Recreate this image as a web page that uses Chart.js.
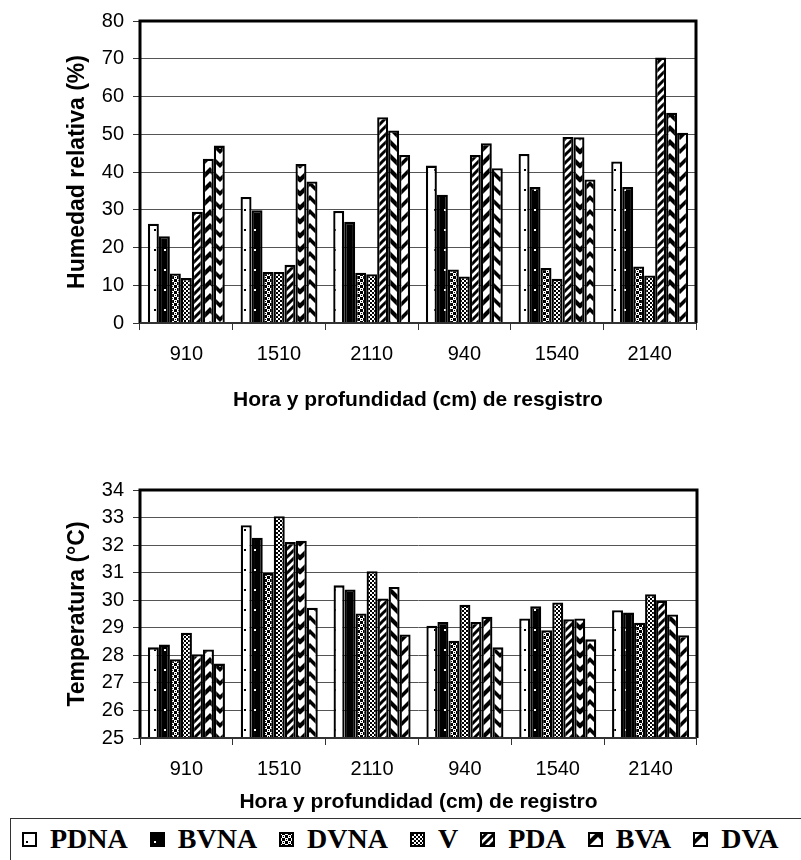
<!DOCTYPE html>
<html><head><meta charset="utf-8">
<script src="https://cdn.jsdelivr.net/npm/chart.js@4/dist/chart.umd.min.js"></script>
<style>
html,body{margin:0;padding:0;background:#fff;width:801px;height:860px;overflow:hidden;position:relative}
#c1{position:absolute;left:0;top:0}
#c2{position:absolute;left:0;top:420px}
#legend{position:absolute;left:10px;top:818px;width:800px;height:50px;border-top:1.5px solid #333;border-left:1.5px solid #333;box-sizing:border-box;display:flex;align-items:flex-start;padding-left:11px;padding-top:4px;font:bold 28px "Liberation Serif","Times New Roman",serif;color:#000;line-height:32px}
.item{display:flex;align-items:center;margin-right:22px;white-space:nowrap}
.item canvas{margin-right:13px;display:block}
</style></head><body>
<canvas id="c1" width="801" height="420"></canvas>
<canvas id="c2" width="801" height="395"></canvas>
<div id="legend"></div>
<script>
// ---- data ----
const categories = ['910','1510','2110','940','1540','2140'];
const seriesNames = ['PDNA','BVNA','DVNA','V','PDA','BVA','DVA'];

// Humedad relativa (%)
const humPDNA = [26.3, 33.4, 29.7, 41.7, 44.8, 42.8];
const humBVNA = [23.0, 29.9, 26.8, 34.0, 36.0, 36.0];
const humDVNA = [13.1, 13.5, 13.3, 14.2, 14.6, 15.0];
const humV    = [11.9, 13.5, 12.9, 12.3, 11.7, 12.6];
const humPDA  = [29.5, 15.4, 54.5, 44.5, 49.3, 70.3];
const humBVA  = [43.5, 42.1, 51.0, 47.6, 49.2, 55.7];
const humDVA  = [47.0, 37.5, 44.5, 41.0, 38.0, 50.4];

// Temperatura (°C)
const tempPDNA = [28.29, 32.72, 30.54, 29.07, 29.34, 29.64];
const tempBVNA = [28.39, 32.27, 30.39, 29.21, 29.78, 29.55];
const tempDVNA = [27.86, 30.99, 29.52, 28.53, 28.91, 29.18];
const tempV    = [28.82, 33.05, 31.05, 29.84, 29.92, 30.22];
const tempPDA  = [28.04, 32.11, 30.06, 29.21, 29.31, 29.98];
const tempBVA  = [28.21, 32.16, 30.48, 29.40, 29.34, 29.48];
const tempDVA  = [27.70, 29.73, 28.76, 28.29, 28.58, 28.73];

const humAxis = {min:0, max:80, step:10};
const tempAxis = {min:25, max:34, step:1};

// ---- patterns ----
function makeTile(w,h,draw){const c=document.createElement('canvas');c.width=w;c.height=h;const x=c.getContext('2d');draw(x,w,h);return c;}
const tiles = {
  PDNA: makeTile(10,20,(x)=>{x.fillStyle='#fff';x.fillRect(0,0,10,20);x.fillStyle='#000';x.fillRect(4,9,2,2);}),
  BVNA: makeTile(10,20,(x)=>{x.fillStyle='#000';x.fillRect(0,0,10,20);x.fillStyle='#fff';x.fillRect(4,9,2,2);}),
  DVNA: makeTile(6,6,(x)=>{x.fillStyle='#000';x.fillRect(0,0,6,6);x.fillStyle='#fff';x.fillRect(0,0,3,3);x.fillRect(3,3,3,3);x.fillStyle='#000';x.fillRect(1,1,1,1);x.fillRect(4,4,1,1);}),
  V: makeTile(4,4,(x)=>{x.fillStyle='#fff';x.fillRect(0,0,4,4);x.fillStyle='#000';x.fillRect(0,0,2,2);x.fillRect(2,2,2,2);}),
  PDA: makeTile(8,8,(x)=>{x.fillStyle='#fff';x.fillRect(0,0,8,8);x.strokeStyle='#000';x.lineWidth=3;x.beginPath();
        x.moveTo(-2,10);x.lineTo(10,-2);x.moveTo(-6,6);x.lineTo(6,-6);x.moveTo(2,14);x.lineTo(14,2);x.stroke();}),
  BVA: makeTile(20,14,(x)=>{x.fillStyle='#fff';x.fillRect(0,0,20,14);x.strokeStyle='#000';x.lineWidth=4.2;x.beginPath();
        for(const dy of [-14,0,14]){x.moveTo(-1,13+dy);x.lineTo(10,2+dy);x.lineTo(21,13+dy);} x.stroke();}),
  DVA: makeTile(20,14,(x)=>{x.fillStyle='#fff';x.fillRect(0,0,20,14);x.fillStyle='#000';
        for(const dy of [-14,0,14]){x.beginPath();x.moveTo(0,9+dy);x.lineTo(10,-1+dy);x.lineTo(20,9+dy);x.lineTo(20,14+dy);x.lineTo(10,4+dy);x.lineTo(0,14+dy);x.closePath();x.fill();}})
};
const pctx = document.createElement('canvas').getContext('2d');
const patterns = {};
for (const k of seriesNames) patterns[k] = pctx.createPattern(tiles[k],'repeat');

// ---- frame plugin ----
const frame = {id:'frame', afterDatasetsDraw(chart){const {ctx,chartArea:a}=chart;ctx.save();
  ctx.strokeStyle='#000';ctx.lineWidth=3;ctx.beginPath();
  ctx.moveTo(a.left,a.bottom);ctx.lineTo(a.left,a.top);ctx.lineTo(a.right,a.top);ctx.lineTo(a.right,a.bottom);ctx.stroke();
  ctx.lineWidth=2;ctx.strokeStyle='#333';ctx.beginPath();ctx.moveTo(a.left,a.bottom);ctx.lineTo(a.right,a.bottom);ctx.stroke();
  ctx.restore();}};

const FONT = "'Liberation Sans', Arial, sans-serif";

function build(id, arrs, ax, ytitle, xtitle, padTop, padRight, xHeight, titlePadBottom){
  const datasets = seriesNames.map((n,i)=>({label:n,data:arrs[i],backgroundColor:patterns[n],borderColor:'#000',borderWidth:2.3,
    categoryPercentage:0.83,barPercentage:1.0}));
  return new Chart(document.getElementById(id),{
    type:'bar',
    data:{labels:categories,datasets},
    options:{responsive:false,animation:false,devicePixelRatio:1,
      layout:{padding:{top:padTop,right:padRight,left:0,bottom:0}},
      plugins:{legend:{display:false},tooltip:{enabled:false}},
      scales:{
        x:{ticks:{color:'#000',font:{family:FONT,size:20},padding:12,maxRotation:0},
           grid:{display:true,drawOnChartArea:false,tickLength:7,color:'#333',offset:true},
           border:{display:false},
           title:{display:true,text:xtitle,color:'#000',font:{family:FONT,size:21,weight:'bold'},padding:{top:0,bottom:titlePadBottom}},
           afterFit(s){s.height=xHeight;}},
        y:{min:ax.min,max:ax.max,ticks:{stepSize:ax.step,color:'#000',font:{family:FONT,size:20},padding:9},
           grid:{color:'#555',lineWidth:1,tickLength:7,tickColor:'#333'},
           border:{display:false},
           title:{display:true,text:ytitle,color:'#000',font:{family:FONT,size:23,weight:'bold'},padding:{top:64,bottom:0}},
           afterFit(s){s.width=140;}}
      }
    },
    plugins:[frame]
  });
}

build('c1',[humPDNA,humBVNA,humDVNA,humV,humPDA,humBVA,humDVA],humAxis,'Humedad relativa (%)','Hora y profundidad (cm) de resgistro',18,105,97,7);
build('c2',[tempPDNA,tempBVNA,tempDVNA,tempV,tempPDA,tempBVA,tempDVA],tempAxis,'Temperatura (°C)','Hora y profundidad (cm) de registro',70,104,77,0);

// ---- legend ----
const lg = document.getElementById('legend');
for (const n of seriesNames){
  const it=document.createElement('div');it.className='item';
  const c=document.createElement('canvas');c.width=15;c.height=15;
  const x=c.getContext('2d');x.fillStyle=patterns[n];x.fillRect(0,0,15,15);
  x.strokeStyle='#000';x.lineWidth=2;x.strokeRect(1,1,13,13);
  const s=document.createElement('span');s.textContent=n;
  it.appendChild(c);it.appendChild(s);lg.appendChild(it);
}
</script>
</body></html>
